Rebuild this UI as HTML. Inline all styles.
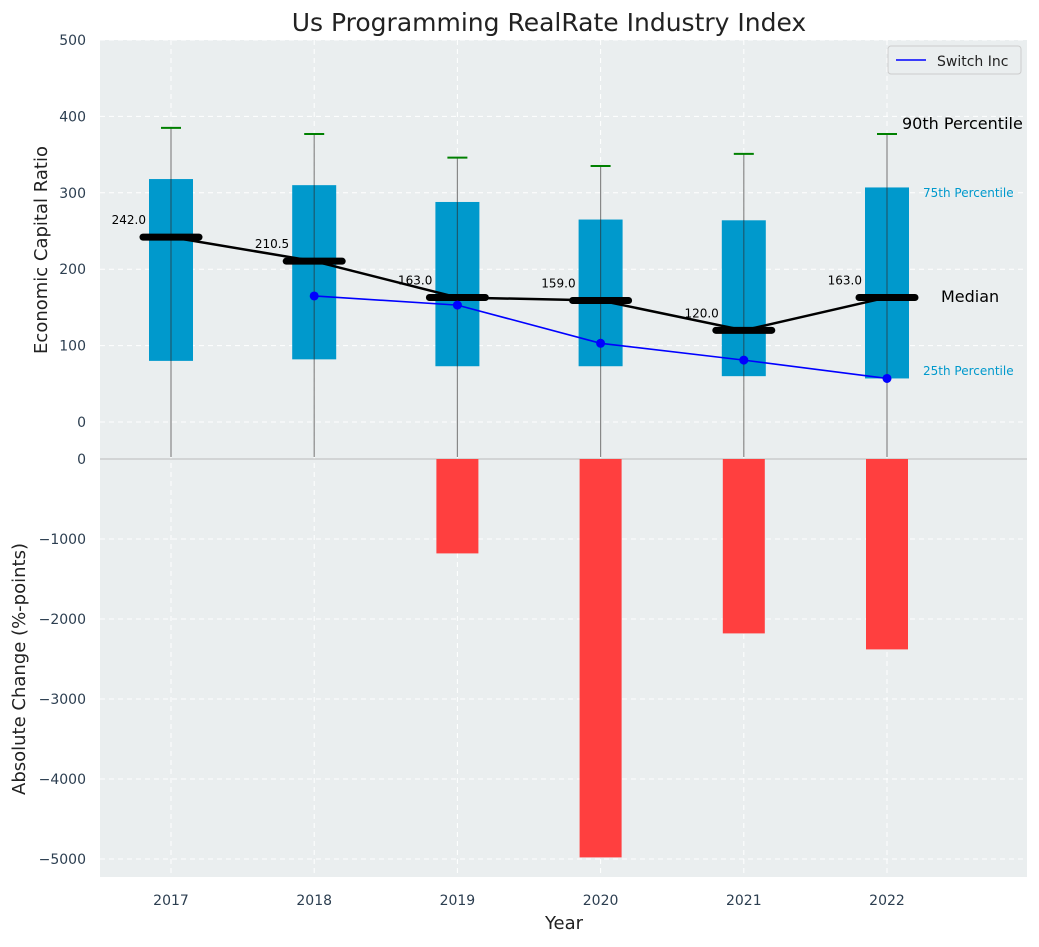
<!DOCTYPE html>
<html><head><meta charset="utf-8"><style>
body{margin:0;background:#fff;font-family:"Liberation Sans","DejaVu Sans",sans-serif;}
svg text{font-family:"DejaVu Sans","Liberation Sans",sans-serif;}
</style></head><body>
<svg id="c" width="1039" height="942" xmlns="http://www.w3.org/2000/svg"></svg>
<script>
const years=["2017","2018","2019","2020","2021","2022"];
const p25=[80,82,73,73,60,57];
const p75=[318,310,288,265,264,307];
const p90=[385,377,346,335,351,377];
const medians=[242,210.5,163,159,120,163];
const switchYears=["2018","2019","2020","2021","2022"];
const switchVals=[165,153,103,81,57];
const changeYears=["2019","2020","2021","2022"];
const changeVals=[-1180,-4980,-2180,-2380];
const topTicks=[0,100,200,300,400,500];
const botTicks=[0,-1000,-2000,-3000,-4000,-5000];

const NS="http://www.w3.org/2000/svg";
const svg=document.getElementById('c');
function el(t,a,txt){const e=document.createElementNS(NS,t);for(const k in a)e.setAttribute(k,a[k]);if(txt!==undefined)e.textContent=txt;svg.appendChild(e);return e;}
const L=100,R=1027,T1=40,B1=459,B2=877;
const xS=i=>171+i*143.2;
const yT=v=>422-v*0.764;
const yB=v=>459-v*(-0.08)*-1*-1; // placeholder
function yb(v){return 459+(-v)*0.08;}
const xi=y=>years.indexOf(y);

let e=el('rect',{x:L,y:T1,width:R-L,height:B1-T1,fill:'#eaeeef'});

e=el('rect',{x:L,y:B1,width:R-L,height:B2-B1,fill:'#eaeeef'});

// grids
years.forEach((y,i)=>{el('line',{x1:xS(i),x2:xS(i),y1:T1,y2:B2,stroke:'#fff','stroke-dasharray':'5,4','stroke-width':1});});
topTicks.forEach(v=>{el('line',{x1:L,x2:R,y1:yT(v),y2:yT(v),stroke:'#fff','stroke-dasharray':'5,4'});
 e=el('text',{x:86,y:yT(v)+5,'text-anchor':'end','font-size':14,fill:'#2c3e50'},v);
 });
botTicks.forEach(v=>{el('line',{x1:L,x2:R,y1:yb(v),y2:yb(v),stroke:'#fff','stroke-dasharray':'5,4'});
 e=el('text',{x:86,y:yb(v)+5,'text-anchor':'end','font-size':14,fill:'#2c3e50'},v<0?'\u2212'+(-v):v);
 });
el('line',{x1:L,x2:R,y1:B1,y2:B1,stroke:'#bbb','stroke-width':1});
// whiskers and boxes
years.forEach((y,i)=>{const x=xS(i);
 e=el('line',{x1:x,x2:x,y1:yT(p90[i]),y2:B1-2,stroke:'#888','stroke-width':1.2});
 
 e=el('line',{x1:x-10,x2:x+10,y1:yT(p90[i]),y2:yT(p90[i]),stroke:'green','stroke-width':2});
 
 e=el('rect',{x:x-22,y:yT(p75[i]),width:44,height:yT(p25[i])-yT(p75[i]),fill:'#0099cc'});
 
 el('line',{x1:x,x2:x,y1:yT(p75[i]),y2:yT(p25[i]),stroke:'#1a5a70','stroke-width':1.2});
});
// bars
changeYears.forEach((y,j)=>{const x=xS(xi(y));
 e=el('rect',{x:x-21,y:B1,width:42,height:yb(changeVals[j])-B1,fill:'#ff3f3f'});
 });
// median line
e=el('polyline',{points:medians.map((m,i)=>xS(i)+','+yT(m)).join(' '),fill:'none',stroke:'#000','stroke-width':2.5});

medians.forEach((m,i)=>{const x=xS(i);
 e=el('line',{x1:x-28,x2:x+28,y1:yT(m),y2:yT(m),stroke:'#000','stroke-width':7,'stroke-linecap':'round'});
 
 e=el('text',{x:x-25,y:yT(m)-13,'text-anchor':'end','font-size':12,fill:'#000'},m.toFixed(1));
 });
// switch
e=el('polyline',{points:switchYears.map((y,j)=>xS(xi(y))+','+yT(switchVals[j])).join(' '),fill:'none',stroke:'#0000ff','stroke-width':1.6});

switchYears.forEach((y,j)=>{e=el('circle',{cx:xS(xi(y)),cy:yT(switchVals[j]),r:4.5,fill:'#0000ff'});
 });
// annotations
e=el('text',{x:902,y:129,'font-size':16,fill:'#000'},'90th Percentile');
e=el('text',{x:923,y:197,'font-size':12,fill:'#0099cc'},'75th Percentile');
e=el('text',{x:941,y:302,'font-size':16,fill:'#000'},'Median');
e=el('text',{x:923,y:375,'font-size':12,fill:'#0099cc'},'25th Percentile');
// x ticks
years.forEach((y,i)=>{e=el('text',{x:xS(i),y:905,'text-anchor':'middle','font-size':14,fill:'#2c3e50'},y);
 });
e=el('text',{x:564,y:929,'text-anchor':'middle','font-size':18,fill:'#222'},'Year');
e=el('text',{x:0,y:0,'text-anchor':'middle','font-size':18,fill:'#222',transform:'translate(47,250) rotate(-90)'},'Economic Capital Ratio');
e=el('text',{x:0,y:0,'text-anchor':'middle','font-size':18,fill:'#222',transform:'translate(25,669) rotate(-90)'},'Absolute Change (%-points)');
e=el('text',{x:549,y:31,'text-anchor':'middle','font-size':25,fill:'#222'},'Us Programming RealRate Industry Index');
// legend
e=el('rect',{x:888,y:46,width:133,height:28,fill:'#eaeeef',stroke:'#ccc',rx:3});
el('line',{x1:896,x2:926,y1:60,y2:60,stroke:'#0000ff','stroke-width':1.6});
e=el('text',{x:937,y:66,'font-size':14,fill:'#222'},'Switch Inc');
</script>
</body></html>
